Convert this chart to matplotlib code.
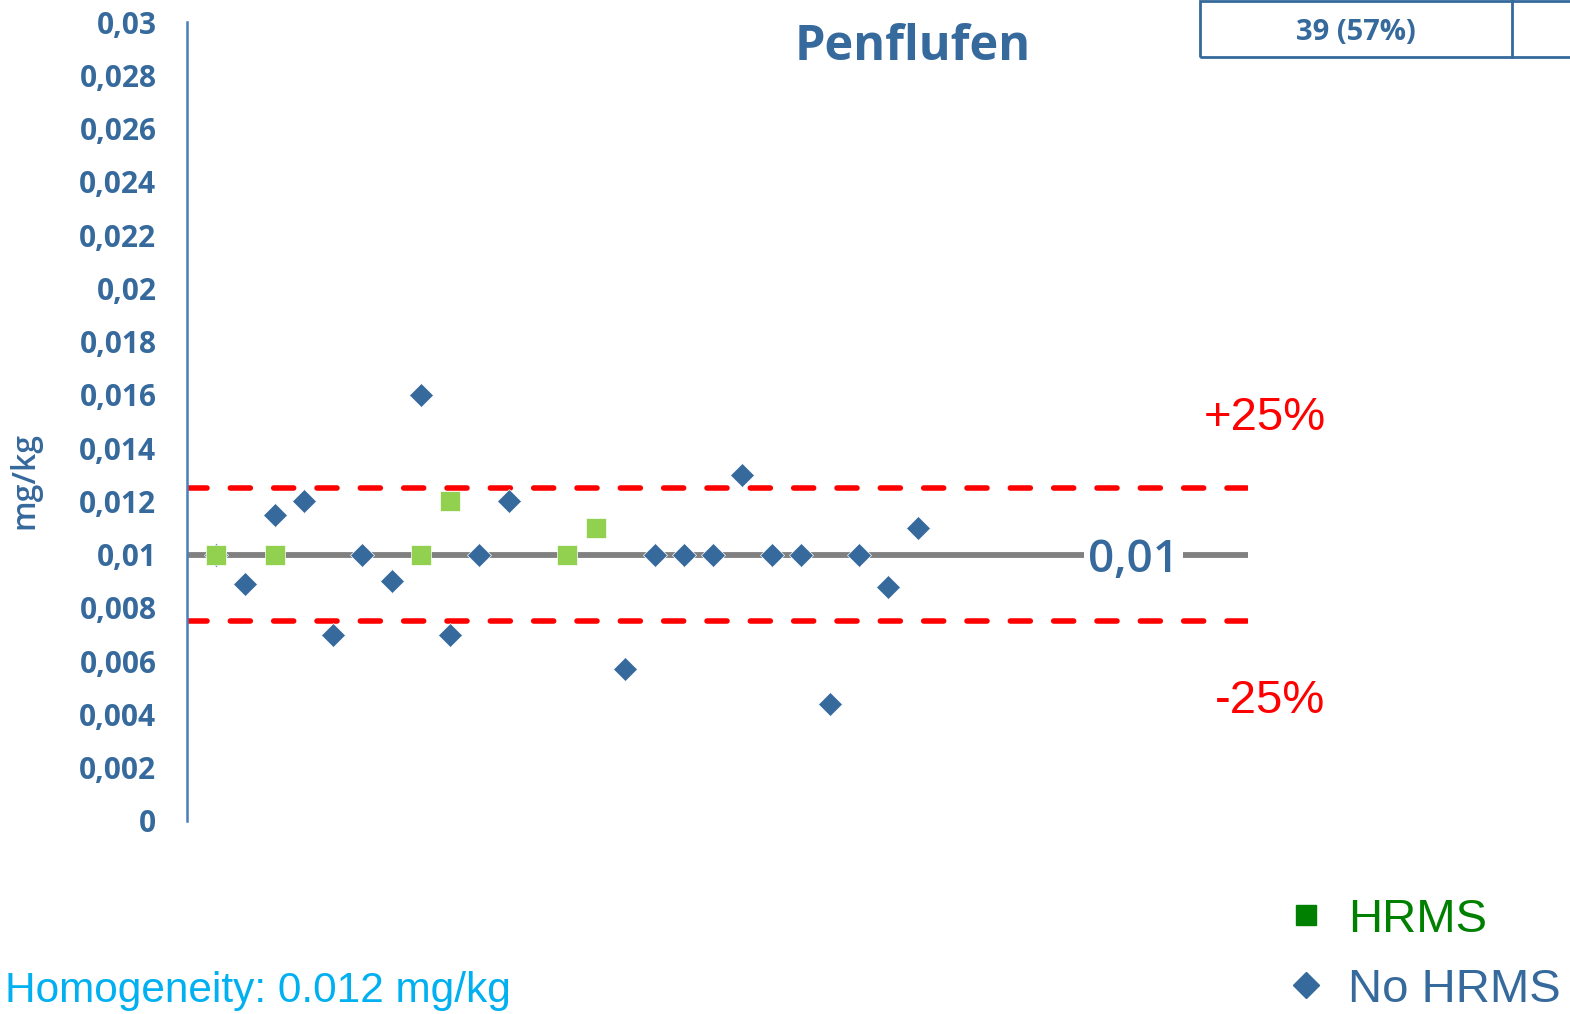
import matplotlib.pyplot as plt
import numpy as np
from matplotlib.lines import Line2D
from matplotlib.patches import Rectangle

# data
lab_no_hrms = [1, 2, 3, 4, 5, 6, 7, 8, 9, 10, 11, 15, 16, 17, 18, 19, 20, 21, 22, 23, 24, 25]
val_no_hrms = [0.01, 0.0089, 0.0115, 0.012, 0.007, 0.01, 0.009, 0.016, 0.007, 0.01, 0.012,
               0.0057, 0.01, 0.01, 0.01, 0.013, 0.01, 0.01, 0.0044, 0.01, 0.0088, 0.011]
lab_hrms = [1, 3, 8, 9, 13, 14]
val_hrms = [0.01, 0.01, 0.01, 0.012, 0.01, 0.011]
assigned = 0.01
upper = 0.0125
lower = 0.0075
yticks = np.arange(0, 0.0301, 0.002)
ytick_labels = ['0', '0,002', '0,004', '0,006', '0,008', '0,01', '0,012', '0,014',
                '0,016', '0,018', '0,02', '0,022', '0,024', '0,026', '0,028', '0,03']

blue = '#36699C'
W, H = 1570, 1014
fig = plt.figure(figsize=(W / 100, H / 100), dpi=100)
ax = fig.add_axes([187 / W, 1 - 821 / H, (1248 - 187) / W, (821 - 22) / H])

ax.axhline(assigned, color='#808080', lw=4.2, zorder=1)
for v in (upper, lower):
    ax.axhline(v, color='#FF0000', lw=4, dashes=(3.6, 4.2), dash_capstyle='round', zorder=1)

ax.plot(lab_no_hrms, val_no_hrms, 'D', color=blue, ms=12, mec='white', mew=0.5, ls='none', zorder=3)
ax.plot(lab_hrms, val_hrms, 's', color='#92D050', ms=14, mec='white', mew=0.5, ls='none', zorder=4)

ax.text(32.37, assigned, '0,01', color=blue, fontsize=33, fontfamily='Open Sans', fontweight='semibold',
        ha='center', va='center_baseline', zorder=5,
        bbox=dict(facecolor='white', edgecolor='none', pad=3))

ax.set_xlim(0, 36.3)
ax.set_ylim(0, 0.03)
ax.set_yticks(yticks)
ax.set_yticklabels(ytick_labels, fontfamily='Open Sans', fontweight='bold', fontsize=21.5, color=blue)
ax.tick_params(axis='y', length=0, pad=22)
ax.set_xticks([])
for s in ('top', 'right', 'bottom'):
    ax.spines[s].set_visible(False)
ax.spines['left'].set_color('#4A7EBB')
ax.spines['left'].set_linewidth(1.8)

fig.text(25 / W, 1 - 480 / H, 'mg/kg', rotation=90, color=blue, fontsize=23, fontweight='semibold',
         fontfamily='Open Sans', ha='center', va='center')
fig.text(913 / W, 1 - 48 / H, 'Penflufen', color=blue, fontsize=35, fontweight='bold',
         fontfamily='Open Sans', ha='center', va='center')
fig.text(1265 / W, 1 - 418 / H, '+25%', color='#FF0000', fontsize=34, fontfamily='Liberation Sans',
         ha='center', va='center')
fig.text(1270 / W, 1 - 701 / H, '-25%', color='#FF0000', fontsize=34, fontfamily='Liberation Sans',
         ha='center', va='center')
fig.text(5 / W, 1 - 991 / H, 'Homogeneity: 0.012 mg/kg', color='#00B0F0', fontsize=30.5,
         fontfamily='Liberation Sans', ha='left', va='center')

# box at top right
fig.patches.append(Rectangle((1200 / W, 1 - 57 / H), 400 / W, 56 / H, transform=fig.transFigure,
                             facecolor='none', edgecolor=blue, lw=2))
fig.lines.append(Line2D([1512 / W, 1512 / W], [1 - 57 / H, 1 - 1 / H], transform=fig.transFigure,
                        color=blue, lw=2))
fig.text(1356 / W, 1 - 32 / H, '39 (57%)', color=blue, fontsize=21, fontweight='bold',
         fontfamily='Open Sans', ha='center', va='center')

handles = [Line2D([], [], marker='s', color='#008000', ls='none', ms=14),
           Line2D([], [], marker='D', color=blue, ls='none', ms=13)]
leg = fig.legend(handles, ['HRMS', 'No HRMS'], loc='center left', bbox_to_anchor=(1287 / W, 1 - 955 / H),
                 frameon=False, prop={'family': 'Liberation Sans', 'size': 34},
                 handletextpad=0.5, labelspacing=0.55, handlelength=0.8, borderpad=0, borderaxespad=0)
leg.get_texts()[0].set_color('#008000')
leg.get_texts()[1].set_color(blue)

fig.savefig('out.png', dpi=100)
